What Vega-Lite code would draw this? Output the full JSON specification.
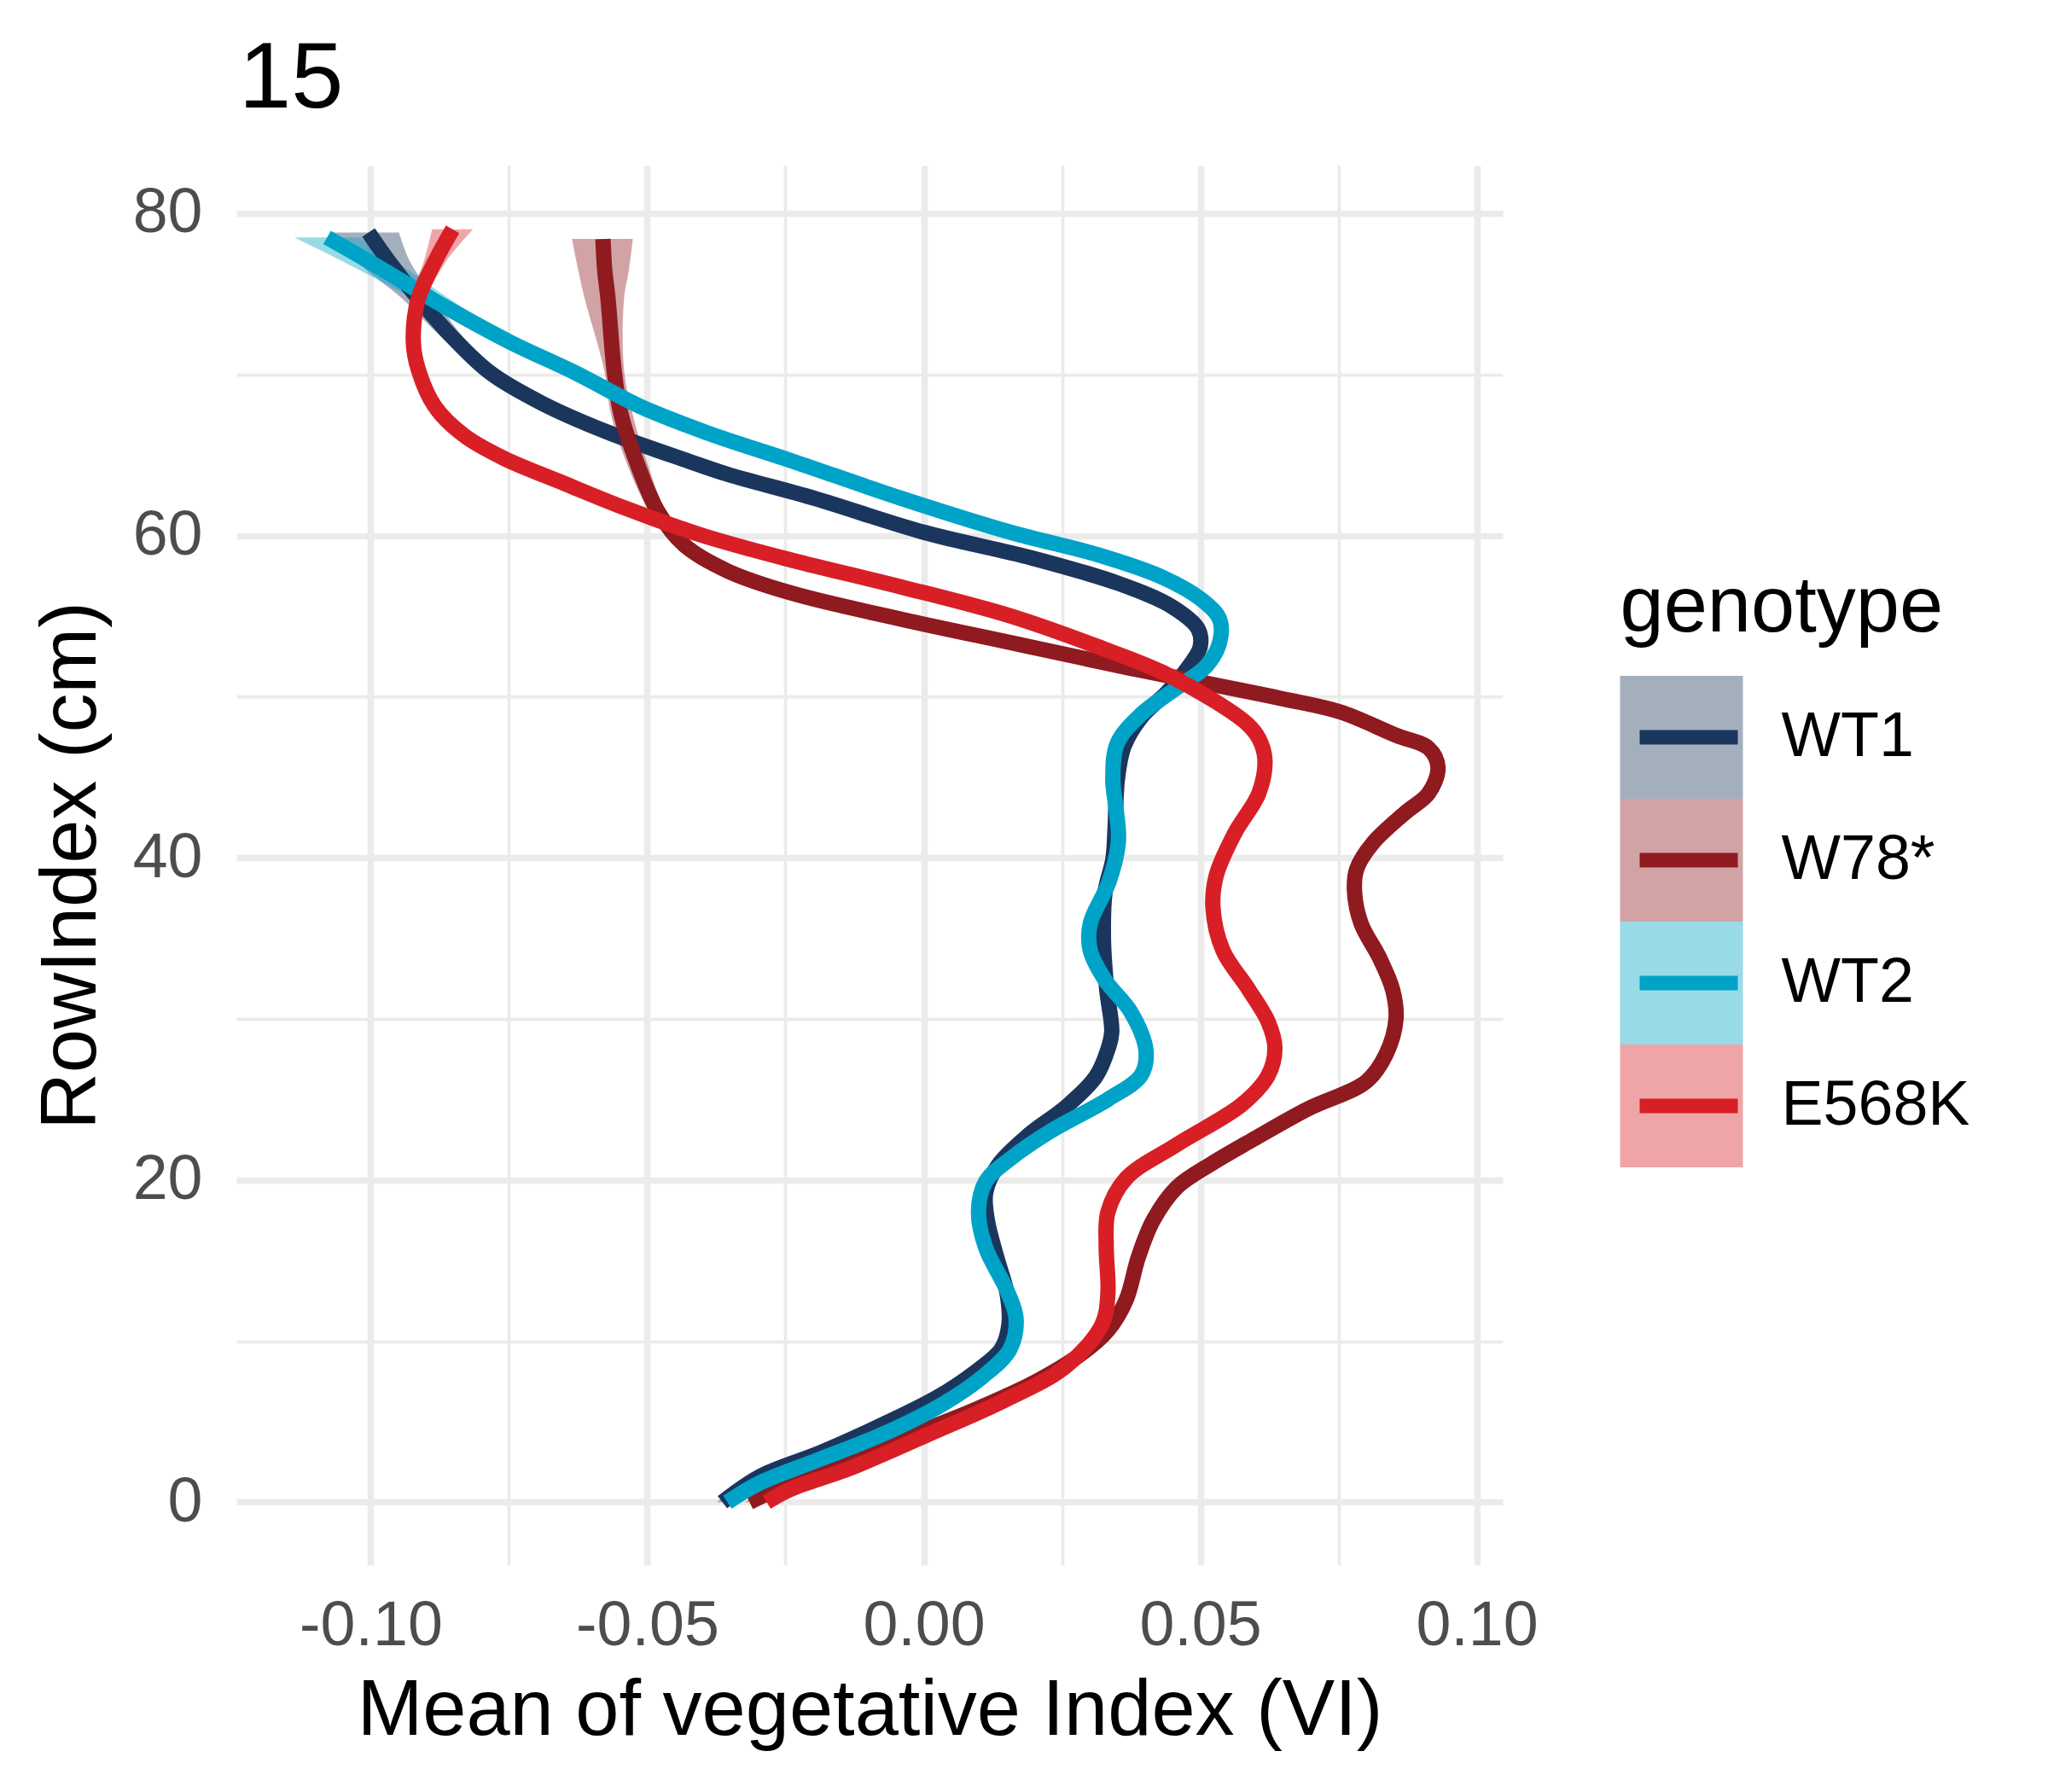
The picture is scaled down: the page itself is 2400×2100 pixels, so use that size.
{
  "$schema": "https://vega.github.io/schema/vega-lite/v6.json",
  "width": 1484,
  "height": 1640,
  "autosize": {"type": "none"},
  "padding": {"left": 277, "top": 194, "right": 639, "bottom": 266},
  "background": "white",
  "title": {
    "text": "15",
    "anchor": "start",
    "frame": "group",
    "font": "Liberation Sans",
    "fontSize": 110,
    "fontWeight": "normal",
    "color": "black",
    "baseline": "top",
    "offset": 45,
    "dx": 3
  },
  "data": {
    "values": [
      {"genotype": "WT1", "RowIndex": 0, "VI": -0.0364, "lo": -0.0374, "hi": -0.0354},
      {"genotype": "WT1", "RowIndex": 1.6, "VI": -0.0296, "lo": -0.0306, "hi": -0.0286},
      {"genotype": "WT1", "RowIndex": 3.1, "VI": -0.0185, "lo": -0.0195, "hi": -0.0175},
      {"genotype": "WT1", "RowIndex": 4.8, "VI": -0.0075, "lo": -0.0085, "hi": -0.0065},
      {"genotype": "WT1", "RowIndex": 6.5, "VI": 0.0024, "lo": 0.0014, "hi": 0.0034},
      {"genotype": "WT1", "RowIndex": 8.0, "VI": 0.009, "lo": 0.008, "hi": 0.01},
      {"genotype": "WT1", "RowIndex": 9.5, "VI": 0.014, "lo": 0.013, "hi": 0.015},
      {"genotype": "WT1", "RowIndex": 11.0, "VI": 0.0154, "lo": 0.0144, "hi": 0.0164},
      {"genotype": "WT1", "RowIndex": 12.9, "VI": 0.0151, "lo": 0.0141, "hi": 0.0161},
      {"genotype": "WT1", "RowIndex": 15.2, "VI": 0.0132, "lo": 0.0122, "hi": 0.0142},
      {"genotype": "WT1", "RowIndex": 17.5, "VI": 0.0115, "lo": 0.0105, "hi": 0.0125},
      {"genotype": "WT1", "RowIndex": 19.2, "VI": 0.0112, "lo": 0.0102, "hi": 0.0122},
      {"genotype": "WT1", "RowIndex": 20.9, "VI": 0.0134, "lo": 0.0124, "hi": 0.0144},
      {"genotype": "WT1", "RowIndex": 22.8, "VI": 0.019, "lo": 0.018, "hi": 0.02},
      {"genotype": "WT1", "RowIndex": 24.5, "VI": 0.0256, "lo": 0.0246, "hi": 0.0266},
      {"genotype": "WT1", "RowIndex": 26.4, "VI": 0.0311, "lo": 0.0301, "hi": 0.0321},
      {"genotype": "WT1", "RowIndex": 28.1, "VI": 0.0333, "lo": 0.0323, "hi": 0.0343},
      {"genotype": "WT1", "RowIndex": 29.2, "VI": 0.034, "lo": 0.033, "hi": 0.035},
      {"genotype": "WT1", "RowIndex": 31.8, "VI": 0.0331, "lo": 0.0321, "hi": 0.0341},
      {"genotype": "WT1", "RowIndex": 34.9, "VI": 0.0325, "lo": 0.0315, "hi": 0.0335},
      {"genotype": "WT1", "RowIndex": 37.9, "VI": 0.0328, "lo": 0.0318, "hi": 0.0338},
      {"genotype": "WT1", "RowIndex": 39.9, "VI": 0.0342, "lo": 0.0332, "hi": 0.0352},
      {"genotype": "WT1", "RowIndex": 41.8, "VI": 0.0346, "lo": 0.0336, "hi": 0.0356},
      {"genotype": "WT1", "RowIndex": 44.8, "VI": 0.035, "lo": 0.034, "hi": 0.036},
      {"genotype": "WT1", "RowIndex": 46.9, "VI": 0.0362, "lo": 0.0352, "hi": 0.0372},
      {"genotype": "WT1", "RowIndex": 48.7, "VI": 0.0393, "lo": 0.0383, "hi": 0.0403},
      {"genotype": "WT1", "RowIndex": 50.3, "VI": 0.0441, "lo": 0.0431, "hi": 0.0451},
      {"genotype": "WT1", "RowIndex": 51.9, "VI": 0.048, "lo": 0.047, "hi": 0.049},
      {"genotype": "WT1", "RowIndex": 53.1, "VI": 0.05, "lo": 0.049, "hi": 0.051},
      {"genotype": "WT1", "RowIndex": 54.2, "VI": 0.0496, "lo": 0.0486, "hi": 0.0506},
      {"genotype": "WT1", "RowIndex": 55.6, "VI": 0.0448, "lo": 0.0438, "hi": 0.0458},
      {"genotype": "WT1", "RowIndex": 57.0, "VI": 0.0354, "lo": 0.0344, "hi": 0.0364},
      {"genotype": "WT1", "RowIndex": 58.6, "VI": 0.0196, "lo": 0.0186, "hi": 0.0206},
      {"genotype": "WT1", "RowIndex": 60.2, "VI": 0.0, "lo": -0.001, "hi": 0.001},
      {"genotype": "WT1", "RowIndex": 62.3, "VI": -0.0197, "lo": -0.0207, "hi": -0.0187},
      {"genotype": "WT1", "RowIndex": 63.8, "VI": -0.0355, "lo": -0.0365, "hi": -0.0345},
      {"genotype": "WT1", "RowIndex": 64.6, "VI": -0.0424, "lo": -0.0434, "hi": -0.0414},
      {"genotype": "WT1", "RowIndex": 66.4, "VI": -0.0571, "lo": -0.0581, "hi": -0.0561},
      {"genotype": "WT1", "RowIndex": 68.2, "VI": -0.069, "lo": -0.0702, "hi": -0.0678},
      {"genotype": "WT1", "RowIndex": 70.1, "VI": -0.0784, "lo": -0.0799, "hi": -0.0769},
      {"genotype": "WT1", "RowIndex": 72.4, "VI": -0.0855, "lo": -0.0875, "hi": -0.0835},
      {"genotype": "WT1", "RowIndex": 74.7, "VI": -0.0914, "lo": -0.0943, "hi": -0.0884},
      {"genotype": "WT1", "RowIndex": 77.0, "VI": -0.0967, "lo": -0.1025, "hi": -0.0929},
      {"genotype": "WT1", "RowIndex": 78.8, "VI": -0.1004, "lo": -0.1068, "hi": -0.0949},

      {"genotype": "W78*", "RowIndex": 0, "VI": -0.0315, "lo": -0.0325, "hi": -0.0305},
      {"genotype": "W78*", "RowIndex": 1.2, "VI": -0.0241, "lo": -0.0251, "hi": -0.0231},
      {"genotype": "W78*", "RowIndex": 2.7, "VI": -0.013, "lo": -0.014, "hi": -0.012},
      {"genotype": "W78*", "RowIndex": 4.2, "VI": -0.002, "lo": -0.003, "hi": -0.001},
      {"genotype": "W78*", "RowIndex": 5.7, "VI": 0.009, "lo": 0.008, "hi": 0.01},
      {"genotype": "W78*", "RowIndex": 7.45, "VI": 0.0201, "lo": 0.0191, "hi": 0.0211},
      {"genotype": "W78*", "RowIndex": 9.15, "VI": 0.0283, "lo": 0.0273, "hi": 0.0293},
      {"genotype": "W78*", "RowIndex": 10.66, "VI": 0.0333, "lo": 0.0323, "hi": 0.0343},
      {"genotype": "W78*", "RowIndex": 12.55, "VI": 0.0366, "lo": 0.0356, "hi": 0.0376},
      {"genotype": "W78*", "RowIndex": 15.2, "VI": 0.0388, "lo": 0.0378, "hi": 0.0398},
      {"genotype": "W78*", "RowIndex": 17.5, "VI": 0.0415, "lo": 0.0405, "hi": 0.0425},
      {"genotype": "W78*", "RowIndex": 19.55, "VI": 0.0458, "lo": 0.0448, "hi": 0.0468},
      {"genotype": "W78*", "RowIndex": 21.0, "VI": 0.052, "lo": 0.051, "hi": 0.053},
      {"genotype": "W78*", "RowIndex": 22.5, "VI": 0.0595, "lo": 0.0585, "hi": 0.0605},
      {"genotype": "W78*", "RowIndex": 24.4, "VI": 0.0694, "lo": 0.0684, "hi": 0.0704},
      {"genotype": "W78*", "RowIndex": 26.1, "VI": 0.08, "lo": 0.079, "hi": 0.081},
      {"genotype": "W78*", "RowIndex": 27.8, "VI": 0.0836, "lo": 0.0826, "hi": 0.0846},
      {"genotype": "W78*", "RowIndex": 30.0, "VI": 0.0854, "lo": 0.0844, "hi": 0.0864},
      {"genotype": "W78*", "RowIndex": 31.8, "VI": 0.0848, "lo": 0.0838, "hi": 0.0858},
      {"genotype": "W78*", "RowIndex": 33.8, "VI": 0.0824, "lo": 0.0814, "hi": 0.0834},
      {"genotype": "W78*", "RowIndex": 35.9, "VI": 0.0791, "lo": 0.0781, "hi": 0.0801},
      {"genotype": "W78*", "RowIndex": 37.9, "VI": 0.0779, "lo": 0.0769, "hi": 0.0789},
      {"genotype": "W78*", "RowIndex": 39.3, "VI": 0.0783, "lo": 0.0773, "hi": 0.0793},
      {"genotype": "W78*", "RowIndex": 40.9, "VI": 0.0812, "lo": 0.0802, "hi": 0.0822},
      {"genotype": "W78*", "RowIndex": 42.8, "VI": 0.0871, "lo": 0.0861, "hi": 0.0881},
      {"genotype": "W78*", "RowIndex": 44.0, "VI": 0.0913, "lo": 0.0903, "hi": 0.0923},
      {"genotype": "W78*", "RowIndex": 45.6, "VI": 0.093, "lo": 0.092, "hi": 0.094},
      {"genotype": "W78*", "RowIndex": 46.8, "VI": 0.0913, "lo": 0.0903, "hi": 0.0923},
      {"genotype": "W78*", "RowIndex": 47.6, "VI": 0.0854, "lo": 0.0844, "hi": 0.0864},
      {"genotype": "W78*", "RowIndex": 49.05, "VI": 0.0753, "lo": 0.0743, "hi": 0.0763},
      {"genotype": "W78*", "RowIndex": 49.9, "VI": 0.0644, "lo": 0.0634, "hi": 0.0654},
      {"genotype": "W78*", "RowIndex": 51.9, "VI": 0.0354, "lo": 0.0344, "hi": 0.0364},
      {"genotype": "W78*", "RowIndex": 53.35, "VI": 0.0157, "lo": 0.0147, "hi": 0.0167},
      {"genotype": "W78*", "RowIndex": 54.8, "VI": -0.004, "lo": -0.005, "hi": -0.003},
      {"genotype": "W78*", "RowIndex": 56.4, "VI": -0.0237, "lo": -0.0247, "hi": -0.0227},
      {"genotype": "W78*", "RowIndex": 57.8, "VI": -0.0355, "lo": -0.0365, "hi": -0.0345},
      {"genotype": "W78*", "RowIndex": 59.4, "VI": -0.0433, "lo": -0.0443, "hi": -0.0423},
      {"genotype": "W78*", "RowIndex": 61.5, "VI": -0.0481, "lo": -0.0496, "hi": -0.0466},
      {"genotype": "W78*", "RowIndex": 65.0, "VI": -0.0524, "lo": -0.0543, "hi": -0.0505},
      {"genotype": "W78*", "RowIndex": 67.6, "VI": -0.0548, "lo": -0.0566, "hi": -0.0527},
      {"genotype": "W78*", "RowIndex": 70.3, "VI": -0.056, "lo": -0.0578, "hi": -0.0542},
      {"genotype": "W78*", "RowIndex": 74.7, "VI": -0.0571, "lo": -0.0613, "hi": -0.0542},
      {"genotype": "W78*", "RowIndex": 76.5, "VI": -0.0577, "lo": -0.0625, "hi": -0.0533},
      {"genotype": "W78*", "RowIndex": 78.4, "VI": -0.058, "lo": -0.0636, "hi": -0.0526},

      {"genotype": "WT2", "RowIndex": 0, "VI": -0.0355, "lo": -0.0365, "hi": -0.0345},
      {"genotype": "WT2", "RowIndex": 1.2, "VI": -0.0296, "lo": -0.0306, "hi": -0.0286},
      {"genotype": "WT2", "RowIndex": 2.7, "VI": -0.0185, "lo": -0.0195, "hi": -0.0175},
      {"genotype": "WT2", "RowIndex": 4.2, "VI": -0.0075, "lo": -0.0085, "hi": -0.0065},
      {"genotype": "WT2", "RowIndex": 6.1, "VI": 0.0035, "lo": 0.0025, "hi": 0.0045},
      {"genotype": "WT2", "RowIndex": 7.8, "VI": 0.0107, "lo": 0.0097, "hi": 0.0117},
      {"genotype": "WT2", "RowIndex": 9.5, "VI": 0.0156, "lo": 0.0146, "hi": 0.0166},
      {"genotype": "WT2", "RowIndex": 11.4, "VI": 0.0167, "lo": 0.0157, "hi": 0.0177},
      {"genotype": "WT2", "RowIndex": 13.1, "VI": 0.0151, "lo": 0.0141, "hi": 0.0161},
      {"genotype": "WT2", "RowIndex": 15.8, "VI": 0.0112, "lo": 0.0102, "hi": 0.0122},
      {"genotype": "WT2", "RowIndex": 18.0, "VI": 0.0099, "lo": 0.0089, "hi": 0.0109},
      {"genotype": "WT2", "RowIndex": 19.9, "VI": 0.0112, "lo": 0.0102, "hi": 0.0122},
      {"genotype": "WT2", "RowIndex": 21.3, "VI": 0.0156, "lo": 0.0146, "hi": 0.0166},
      {"genotype": "WT2", "RowIndex": 23.0, "VI": 0.0228, "lo": 0.0218, "hi": 0.0238},
      {"genotype": "WT2", "RowIndex": 25.0, "VI": 0.0333, "lo": 0.0323, "hi": 0.0343},
      {"genotype": "WT2", "RowIndex": 26.5, "VI": 0.0393, "lo": 0.0383, "hi": 0.0403},
      {"genotype": "WT2", "RowIndex": 28.0, "VI": 0.0402, "lo": 0.0392, "hi": 0.0412},
      {"genotype": "WT2", "RowIndex": 30.4, "VI": 0.0375, "lo": 0.0365, "hi": 0.0385},
      {"genotype": "WT2", "RowIndex": 32.4, "VI": 0.0328, "lo": 0.0318, "hi": 0.0338},
      {"genotype": "WT2", "RowIndex": 34.25, "VI": 0.0301, "lo": 0.0291, "hi": 0.0311},
      {"genotype": "WT2", "RowIndex": 35.9, "VI": 0.0301, "lo": 0.0291, "hi": 0.0311},
      {"genotype": "WT2", "RowIndex": 38.5, "VI": 0.0335, "lo": 0.0325, "hi": 0.0345},
      {"genotype": "WT2", "RowIndex": 41.0, "VI": 0.0352, "lo": 0.0342, "hi": 0.0362},
      {"genotype": "WT2", "RowIndex": 43.0, "VI": 0.0348, "lo": 0.0338, "hi": 0.0358},
      {"genotype": "WT2", "RowIndex": 44.8, "VI": 0.0342, "lo": 0.0332, "hi": 0.0352},
      {"genotype": "WT2", "RowIndex": 47.1, "VI": 0.035, "lo": 0.034, "hi": 0.036},
      {"genotype": "WT2", "RowIndex": 48.9, "VI": 0.0393, "lo": 0.0383, "hi": 0.0403},
      {"genotype": "WT2", "RowIndex": 50.5, "VI": 0.0456, "lo": 0.0446, "hi": 0.0466},
      {"genotype": "WT2", "RowIndex": 51.9, "VI": 0.0511, "lo": 0.0501, "hi": 0.0521},
      {"genotype": "WT2", "RowIndex": 53.35, "VI": 0.0535, "lo": 0.0525, "hi": 0.0545},
      {"genotype": "WT2", "RowIndex": 54.8, "VI": 0.0535, "lo": 0.0525, "hi": 0.0545},
      {"genotype": "WT2", "RowIndex": 56.0, "VI": 0.0503, "lo": 0.0493, "hi": 0.0513},
      {"genotype": "WT2", "RowIndex": 57.4, "VI": 0.0432, "lo": 0.0422, "hi": 0.0442},
      {"genotype": "WT2", "RowIndex": 58.8, "VI": 0.0315, "lo": 0.0305, "hi": 0.0325},
      {"genotype": "WT2", "RowIndex": 60.2, "VI": 0.0157, "lo": 0.0147, "hi": 0.0167},
      {"genotype": "WT2", "RowIndex": 62.3, "VI": -0.004, "lo": -0.005, "hi": -0.003},
      {"genotype": "WT2", "RowIndex": 64.6, "VI": -0.0236, "lo": -0.0246, "hi": -0.0226},
      {"genotype": "WT2", "RowIndex": 66.4, "VI": -0.0394, "lo": -0.0404, "hi": -0.0384},
      {"genotype": "WT2", "RowIndex": 68.0, "VI": -0.0512, "lo": -0.0522, "hi": -0.0502},
      {"genotype": "WT2", "RowIndex": 70.1, "VI": -0.063, "lo": -0.0645, "hi": -0.0615},
      {"genotype": "WT2", "RowIndex": 72.0, "VI": -0.0748, "lo": -0.0768, "hi": -0.0728},
      {"genotype": "WT2", "RowIndex": 74.2, "VI": -0.0866, "lo": -0.0896, "hi": -0.0836},
      {"genotype": "WT2", "RowIndex": 76.65, "VI": -0.0985, "lo": -0.103, "hi": -0.094},
      {"genotype": "WT2", "RowIndex": 78.5, "VI": -0.1079, "lo": -0.1138, "hi": -0.102},

      {"genotype": "E568K", "RowIndex": 0, "VI": -0.0284, "lo": -0.0294, "hi": -0.0274},
      {"genotype": "E568K", "RowIndex": 0.8, "VI": -0.0241, "lo": -0.0251, "hi": -0.0231},
      {"genotype": "E568K", "RowIndex": 2.15, "VI": -0.013, "lo": -0.014, "hi": -0.012},
      {"genotype": "E568K", "RowIndex": 4.2, "VI": 0.0008, "lo": -0.0002, "hi": 0.0018},
      {"genotype": "E568K", "RowIndex": 6.3, "VI": 0.0145, "lo": 0.0135, "hi": 0.0155},
      {"genotype": "E568K", "RowIndex": 8.4, "VI": 0.0256, "lo": 0.0246, "hi": 0.0266},
      {"genotype": "E568K", "RowIndex": 11.0, "VI": 0.0322, "lo": 0.0312, "hi": 0.0332},
      {"genotype": "E568K", "RowIndex": 12.9, "VI": 0.0333, "lo": 0.0323, "hi": 0.0343},
      {"genotype": "E568K", "RowIndex": 15.8, "VI": 0.033, "lo": 0.032, "hi": 0.034},
      {"genotype": "E568K", "RowIndex": 18.0, "VI": 0.0333, "lo": 0.0323, "hi": 0.0343},
      {"genotype": "E568K", "RowIndex": 20.1, "VI": 0.0366, "lo": 0.0356, "hi": 0.0376},
      {"genotype": "E568K", "RowIndex": 22.2, "VI": 0.0458, "lo": 0.0448, "hi": 0.0468},
      {"genotype": "E568K", "RowIndex": 24.7, "VI": 0.0576, "lo": 0.0566, "hi": 0.0586},
      {"genotype": "E568K", "RowIndex": 26.5, "VI": 0.0623, "lo": 0.0613, "hi": 0.0633},
      {"genotype": "E568K", "RowIndex": 28.2, "VI": 0.0635, "lo": 0.0625, "hi": 0.0645},
      {"genotype": "E568K", "RowIndex": 29.8, "VI": 0.0623, "lo": 0.0613, "hi": 0.0633},
      {"genotype": "E568K", "RowIndex": 31.8, "VI": 0.0588, "lo": 0.0578, "hi": 0.0598},
      {"genotype": "E568K", "RowIndex": 34.25, "VI": 0.0541, "lo": 0.0531, "hi": 0.0551},
      {"genotype": "E568K", "RowIndex": 36.9, "VI": 0.0523, "lo": 0.0513, "hi": 0.0533},
      {"genotype": "E568K", "RowIndex": 38.9, "VI": 0.0529, "lo": 0.0519, "hi": 0.0539},
      {"genotype": "E568K", "RowIndex": 41.5, "VI": 0.0562, "lo": 0.0552, "hi": 0.0572},
      {"genotype": "E568K", "RowIndex": 44.0, "VI": 0.0606, "lo": 0.0596, "hi": 0.0616},
      {"genotype": "E568K", "RowIndex": 46.1, "VI": 0.0617, "lo": 0.0607, "hi": 0.0627},
      {"genotype": "E568K", "RowIndex": 47.4, "VI": 0.0606, "lo": 0.0596, "hi": 0.0616},
      {"genotype": "E568K", "RowIndex": 48.3, "VI": 0.0585, "lo": 0.0575, "hi": 0.0595},
      {"genotype": "E568K", "RowIndex": 49.7, "VI": 0.0527, "lo": 0.0517, "hi": 0.0537},
      {"genotype": "E568K", "RowIndex": 51.5, "VI": 0.0432, "lo": 0.0422, "hi": 0.0442},
      {"genotype": "E568K", "RowIndex": 53.1, "VI": 0.0315, "lo": 0.0305, "hi": 0.0325},
      {"genotype": "E568K", "RowIndex": 55.0, "VI": 0.0157, "lo": 0.0147, "hi": 0.0167},
      {"genotype": "E568K", "RowIndex": 56.8, "VI": -0.004, "lo": -0.005, "hi": -0.003},
      {"genotype": "E568K", "RowIndex": 58.45, "VI": -0.0237, "lo": -0.0247, "hi": -0.0227},
      {"genotype": "E568K", "RowIndex": 60.0, "VI": -0.04, "lo": -0.041, "hi": -0.039},
      {"genotype": "E568K", "RowIndex": 61.7, "VI": -0.054, "lo": -0.055, "hi": -0.053},
      {"genotype": "E568K", "RowIndex": 63.2, "VI": -0.0648, "lo": -0.0658, "hi": -0.0638},
      {"genotype": "E568K", "RowIndex": 64.8, "VI": -0.076, "lo": -0.077, "hi": -0.075},
      {"genotype": "E568K", "RowIndex": 66.2, "VI": -0.0831, "lo": -0.0841, "hi": -0.0821},
      {"genotype": "E568K", "RowIndex": 68.0, "VI": -0.0884, "lo": -0.0894, "hi": -0.0874},
      {"genotype": "E568K", "RowIndex": 70.3, "VI": -0.0914, "lo": -0.0924, "hi": -0.0904},
      {"genotype": "E568K", "RowIndex": 72.0, "VI": -0.0923, "lo": -0.0933, "hi": -0.0913},
      {"genotype": "E568K", "RowIndex": 74.7, "VI": -0.0914, "lo": -0.0929, "hi": -0.0899},
      {"genotype": "E568K", "RowIndex": 77.0, "VI": -0.0884, "lo": -0.0904, "hi": -0.0864},
      {"genotype": "E568K", "RowIndex": 79.0, "VI": -0.0852, "lo": -0.0889, "hi": -0.0815}
    ]
  },
  "encoding": {
    "y": {
      "field": "RowIndex",
      "type": "quantitative",
      "scale": {"domain": [-3.9, 82.96], "nice": false, "zero": false},
      "axis": {
        "title": "RowIndex (cm)",
        "values": [0, 10, 20, 30, 40, 50, 60, 70, 80],
        "labelExpr": "datum.value % 20 === 0 ? datum.label : ''",
        "grid": true,
        "gridColor": "#ebebeb",
        "gridWidth": {"condition": {"test": "datum.value % 20 === 0", "value": 7.5}, "value": 3.75},
        "domain": false,
        "ticks": false,
        "labelFont": "Liberation Sans",
        "labelFontSize": 73.6,
        "labelColor": "#4d4d4d",
        "labelPadding": 40,
        "labelOverlap": false,
        "titleFont": "Liberation Sans",
        "titleFontSize": 92,
        "titleFontWeight": "normal",
        "titleColor": "black",
        "titlePadding": 25
      }
    }
  },
  "layer": [
    {
      "mark": {"type": "area", "orient": "horizontal", "opacity": 0.4, "interpolate": "catmull-rom"},
      "encoding": {
        "x": {
          "field": "lo",
          "type": "quantitative",
          "scale": {"domain": [-0.1243, 0.1047], "nice": false, "zero": false},
          "axis": {
            "title": "Mean of vegetative Index (VI)",
            "values": [-0.1, -0.075, -0.05, -0.025, 0, 0.025, 0.05, 0.075, 0.1],
            "labelExpr": "abs(datum.value * 20 - round(datum.value * 20)) < 0.001 ? replace(format(datum.value, '.2f'), '\u2212', '-') : ''",
            "grid": true,
            "gridColor": "#ebebeb",
            "gridWidth": {"condition": {"test": "abs(datum.value * 20 - round(datum.value * 20)) < 0.001", "value": 7.5}, "value": 3.75},
            "domain": false,
            "ticks": false,
            "labelFont": "Liberation Sans",
            "labelFontSize": 73.6,
            "labelColor": "#4d4d4d",
            "labelPadding": 35,
            "labelFlush": false,
            "labelOverlap": false,
            "titleFont": "Liberation Sans",
            "titleFontSize": 92,
            "titleFontWeight": "normal",
            "titleColor": "black",
            "titlePadding": 18
          }
        },
        "x2": {"field": "hi"},
        "fill": {
          "field": "genotype",
          "type": "nominal",
          "sort": ["WT1", "W78*", "WT2", "E568K"],
          "scale": {"range": ["#1b365d", "#8f1a1f", "#00a3c8", "#d81f26"]},
          "legend": {
            "orient": "none",
            "legendX": 1621.5,
            "legendY": 473,
            "direction": "vertical",
            "padding": 0,
            "title": "genotype",
            "titleFont": "Liberation Sans",
            "titleFontSize": 92,
            "titleFontWeight": "normal",
            "titleColor": "black",
            "titlePadding": 33,
            "titleLimit": 1000,
            "symbolType": "square",
            "symbolSize": 20736,
            "symbolStrokeWidth": 0,
            "symbolOpacity": 0.4,
            "rowPadding": 0,
            "labelFont": "Liberation Sans",
            "labelFontSize": 73.6,
            "labelColor": "black",
            "labelOffset": 45,
            "labelLimit": 1000
          }
        }
      }
    },
    {
      "mark": {"type": "line", "strokeWidth": 18, "interpolate": "catmull-rom", "strokeCap": "butt"},
      "encoding": {
        "x": {
          "field": "VI",
          "type": "quantitative",
          "scale": {"domain": [-0.1243, 0.1047], "nice": false, "zero": false},
          "axis": {
            "title": "Mean of vegetative Index (VI)",
            "values": [-0.1, -0.075, -0.05, -0.025, 0, 0.025, 0.05, 0.075, 0.1],
            "labelExpr": "abs(datum.value * 20 - round(datum.value * 20)) < 0.001 ? replace(format(datum.value, '.2f'), '\u2212', '-') : ''",
            "grid": true,
            "gridColor": "#ebebeb",
            "gridWidth": {"condition": {"test": "abs(datum.value * 20 - round(datum.value * 20)) < 0.001", "value": 7.5}, "value": 3.75},
            "domain": false,
            "ticks": false,
            "labelFont": "Liberation Sans",
            "labelFontSize": 73.6,
            "labelColor": "#4d4d4d",
            "labelPadding": 35,
            "labelFlush": false,
            "labelOverlap": false,
            "titleFont": "Liberation Sans",
            "titleFontSize": 92,
            "titleFontWeight": "normal",
            "titleColor": "black",
            "titlePadding": 18
          }
        },
        "order": {"field": "RowIndex", "type": "quantitative"},
        "stroke": {
          "field": "genotype",
          "type": "nominal",
          "scale": {
            "domain": ["WT1", "W78*", "WT2", "E568K"],
            "range": ["#1b365d", "#8f1a1f", "#00a3c8", "#d81f26"]
          },
          "legend": {
            "orient": "none",
            "legendX": 1621.5,
            "legendY": 473,
            "direction": "vertical",
            "padding": 0,
            "title": "genotype",
            "titleFont": "Liberation Sans",
            "titleFontSize": 92,
            "titleFontWeight": "normal",
            "titleColor": "black",
            "titleOpacity": 0,
            "titlePadding": 33,
            "titleLimit": 1000,
            "symbolType": "stroke",
            "symbolSize": 13225,
            "symbolStrokeWidth": 17,
            "symbolOffset": 14.5,
            "clipHeight": 144,
            "rowPadding": 0,
            "labelFont": "Liberation Sans",
            "labelFontSize": 73.6,
            "labelColor": "black",
            "labelOpacity": 0,
            "labelOffset": 45,
            "labelLimit": 1000
          }
        }
      }
    }
  ],
  "config": {
    "view": {"stroke": null}
  }
}
